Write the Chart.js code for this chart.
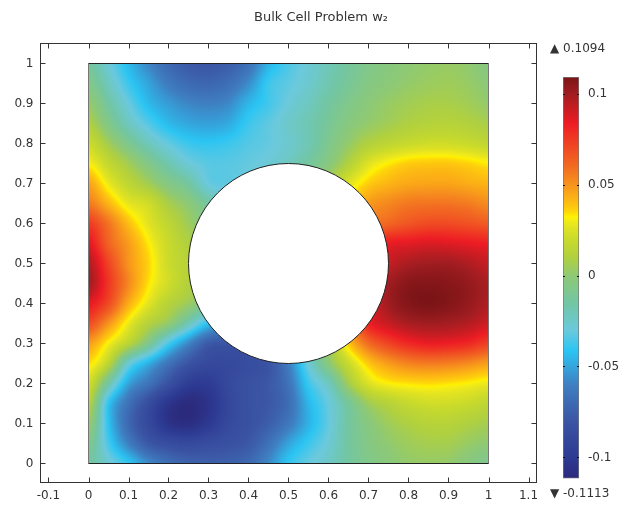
<!DOCTYPE html>
<html>
<head>
<meta charset="utf-8">
<title>Bulk Cell Problem w2</title>
<script src="https://cdn.jsdelivr.net/npm/chart.js@4/dist/chart.umd.min.js"></script>
<style>
    html, body { margin: 0; padding: 0; background: #fff; }
    #wrap { position: relative; width: 620px; height: 507px; overflow: hidden; }
    #field { position: absolute; left: 0; top: 0; }
    #bar { position: absolute; left: 545px; top: 0; }
</style>
</head>
<body>
<div id="wrap">
    <canvas id="field" width="620" height="507"></canvas>
    <canvas id="bar" width="75" height="507"></canvas>
</div>
<script>
// solution, in thousandths. rows go from y = 1 down to y = 0
// (values inside the hole are hidden, they only keep the shading continuous)
var gridX = [0, 0.05, 0.1, 0.15, 0.2, 0.25, 0.3, 0.35, 0.4, 0.45, 0.5, 0.55, 0.6, 0.65, 0.7, 0.75, 0.8, 0.85, 0.9, 0.95, 1];
var gridY = [1, 0.95, 0.9, 0.85, 0.8, 0.75, 0.7, 0.65, 0.6, 0.55, 0.5, 0.45, 0.4, 0.35, 0.3, 0.25, 0.2, 0.15, 0.1, 0.05, 0];
var w2Rows = [
    [-12, -28, -44, -58, -70, -77, -79, -75, -66, -46, -35, -28, -20, -13, -7, -3, 0, 2, 3, 1, -4],
    [-6, -22, -38, -50, -62, -69, -71, -67, -56, -38, -32, -26, -18, -11, -5, -1, 2, 4, 5, 3, -1],
    [2, -14, -30, -44, -52, -58, -60, -57, -45, -37, -29, -22, -14, -7, -1, 3, 6, 8, 8, 6, 2],
    [10, -6, -22, -34, -44, -49, -51, -48, -38, -32, -25, -19, -11, -3, 2, 6, 10, 12, 13, 11, 8],
    [21, 6, -8, -21, -31, -38, -40, -38, -34, -31, -26, -19, -8, 2, 11, 16, 20, 22, 22, 20, 17],
    [32, 18, 6, -6, -18, -28, -33, -33, -31, -28, -22, -13, -3, 11, 26, 33, 37, 38, 38, 36, 33],
    [46, 29, 16, 6, -5, -14, -30, -32, -29, -23, -15, -5, 8, 26, 37, 42, 45, 46, 46, 44, 42],
    [57, 42, 28, 22, 8, -1, -14, -24, -25, -20, -10, 2, 15, 33, 48, 53, 57, 58, 58, 56, 52],
    [75, 58, 40, 27, 16, 5, -5, -14, -15, -10, 0, 12, 27, 44, 56, 62, 67, 70, 70, 68, 65],
    [87, 63, 48, 33, 20, 10, 2, -6, -5, 0, 7, 18, 32, 52, 70, 84, 86, 88, 87, 85, 83],
    [97, 72, 50, 36, 21, 13, 6, 0, 0, 5, 15, 30, 46, 65, 80, 92, 98, 100, 100, 97, 92],
    [100, 76, 53, 34, 22, 11, 2, -3, 0, 5, 20, 35, 55, 75, 90, 100, 106, 107, 106, 103, 98],
    [86, 70, 44, 27, 13, 4, -8, -12, -8, 0, 10, 25, 45, 65, 85, 100, 107, 109, 107, 103, 97],
    [70, 50, 29, 12, 1, -20, -42, -50, -45, -35, -18, 12, 35, 55, 82, 92, 98, 100, 99, 96, 90],
    [48, 31, 14, -8, -36, -58, -77, -80, -80, -70, -45, -18, 8, 38, 60, 72, 80, 84, 83, 80, 73],
    [35, 15, -27, -47, -65, -80, -88, -88, -85, -80, -60, -28, -2, 20, 38, 48, 54, 56, 55, 52, 47],
    [23, -15, -50, -65, -82, -97, -98, -88, -82, -78, -65, -38, -22, 6, 25, 32, 34, 35, 34, 32, 29],
    [13, -40, -66, -85, -103, -110, -104, -90, -82, -78, -68, -45, -30, -12, 5, 13, 19, 22, 22, 20, 16],
    [3, -41, -70, -88, -104, -108, -100, -88, -82, -75, -63, -46, -31, -14, -3, 5, 10, 13, 13, 10, 7],
    [-7, -36, -60, -78, -85, -88, -85, -82, -78, -66, -50, -38, -28, -14, -5, 1, 5, 7, 7, 3, 0],
    [-14, -27, -40, -57, -68, -73, -75, -74, -70, -57, -40, -31, -24, -14, -7, -2, 2, 3, 2, -3, -8]
];
var xTicks = [-0.1, 0, 0.1, 0.2, 0.3, 0.4, 0.5, 0.6, 0.7, 0.8, 0.9, 1, 1.1];
var yTicks = [0, 0.1, 0.2, 0.3, 0.4, 0.5, 0.6, 0.7, 0.8, 0.9, 1];
var barTicks = [-0.1, -0.05, 0, 0.05, 0.1];
var barMax = 0.1094;
var barMin = -0.1113;
var colorValues = [-0.1113, -0.1, -0.08, -0.06, -0.041, -0.03, -0.015, 0, 0.01, 0.02, 0.027, 0.0315, 0.0325, 0.036, 0.041, 0.05, 0.06, 0.084, 0.1, 0.1094];
var colorStops = ["#2b2a7c", "#2d3a92", "#3b54a4", "#3f7fc1", "#2bc5f3", "#6bc9dd", "#72c6a4", "#8ec975", "#b0d040", "#c8da2c", "#e2e322", "#f8ee12", "#fff200", "#fed20c", "#fdb913", "#f7941d", "#f26c22", "#ed1c24", "#a11d21", "#7b1416"];
var holeX = 0.5, holeY = 0.5, holeR = 0.25;

var ink = "#333";
var fontName = "'DejaVu Sans'";

var stopRgb = colorStops.map(function(c) {
    return [parseInt(c.substr(1, 2), 16), parseInt(c.substr(3, 2), 16), parseInt(c.substr(5, 2), 16)];
});

function colorFor(v) {
    var i = 0;
    if (v <= colorValues[0]) return stopRgb[0];
    if (v >= colorValues[colorValues.length - 1]) return stopRgb[stopRgb.length - 1];
    while (v > colorValues[i + 1]) i++;
    var t = (v - colorValues[i]) / (colorValues[i + 1] - colorValues[i]);
    return [0, 1, 2].map(function(k) {
        return stopRgb[i][k] + t * (stopRgb[i + 1][k] - stopRgb[i][k]);
    });
}

function cubic(a, b, c, d, t) {
    return b + 0.5 * t * (c - a + t * (2 * a - 5 * b + 4 * c - d + t * (3 * (b - c) + d - a)));
}

function gridAt(r, c) {
    r = Math.max(0, Math.min(w2Rows.length - 1, r));
    c = Math.max(0, Math.min(gridX.length - 1, c));
    return w2Rows[r][c];
}

// smooth shading between the grid nodes, same as the pcolor gouraud thing
function shade(fx, fy) {
    var c = Math.min(Math.floor(fx), gridX.length - 2), r = Math.min(Math.floor(fy), gridY.length - 2);
    var tx = fx - c, ty = fy - r, col = [];
    for (var j = -1; j < 3; j++) {
        col.push(cubic(gridAt(r + j, c - 1), gridAt(r + j, c), gridAt(r + j, c + 1), gridAt(r + j, c + 2), tx));
    }
    return cubic(col[0], col[1], col[2], col[3], ty) / 1000;
}

var heatPlugin = {
    id: "heat",
    beforeDatasetsDraw: function(chart) {
        var x = chart.scales.x, y = chart.scales.y, ctx = chart.ctx;
        var x0 = x.getPixelForValue(gridX[0]), x1 = x.getPixelForValue(gridX[gridX.length - 1]);
        var y0 = y.getPixelForValue(gridY[0]), y1 = y.getPixelForValue(gridY[gridY.length - 1]);
        var w = Math.round(x1 - x0), h = Math.round(y1 - y0);
        var off = document.createElement("canvas");
        off.width = w;
        off.height = h;
        var octx = off.getContext("2d");
        var img = octx.createImageData(w, h);
        for (var py = 0; py < h; py++) {
            for (var px = 0; px < w; px++) {
                var fx = (px + 0.5) / w * (gridX.length - 1);
                var fy = (py + 0.5) / h * (gridY.length - 1);
                var rgb = colorFor(shade(fx, fy));
                var n = (py * w + px) * 4;
                img.data[n] = rgb[0];
                img.data[n + 1] = rgb[1];
                img.data[n + 2] = rgb[2];
                img.data[n + 3] = 255;
            }
        }
        octx.putImageData(img, 0, 0);
        ctx.drawImage(off, x0, y0, x1 - x0, y1 - y0);

        // domain edges
        ctx.lineWidth = 1;
        ctx.strokeStyle = "#777";
        ctx.beginPath();
        ctx.moveTo(x0, y0); ctx.lineTo(x0, y1);
        ctx.moveTo(x1, y0); ctx.lineTo(x1, y1);
        ctx.stroke();
        ctx.strokeStyle = "#222";
        ctx.beginPath();
        ctx.moveTo(x0, y0); ctx.lineTo(x1, y0);
        ctx.moveTo(x0, y1); ctx.lineTo(x1, y1);
        ctx.stroke();

        // the hole
        var r = x.getPixelForValue(holeX + holeR) - x.getPixelForValue(holeX);
        ctx.beginPath();
        ctx.arc(x.getPixelForValue(holeX), y.getPixelForValue(holeY), r, 0, Math.PI * 2);
        ctx.fillStyle = "#fff";
        ctx.fill();
        ctx.strokeStyle = "#222";
        ctx.stroke();
    },
    afterDraw: function(chart) {
        var a = chart.chartArea, ctx = chart.ctx, len = 5;
        ctx.save();
        ctx.strokeStyle = ink;
        ctx.lineWidth = 1;
        ctx.strokeRect(a.left, a.top, a.right - a.left, a.bottom - a.top);
        ctx.beginPath();
        xTicks.forEach(function(t) {
            var p = Math.round(chart.scales.x.getPixelForValue(t)) + 0.5;
            ctx.moveTo(p, a.top); ctx.lineTo(p, a.top + len);
            ctx.moveTo(p, a.bottom); ctx.lineTo(p, a.bottom - len);
        });
        yTicks.forEach(function(t) {
            var p = Math.round(chart.scales.y.getPixelForValue(t) - 0.5) + 0.5;
            ctx.moveTo(a.left, p); ctx.lineTo(a.left + len, p);
            ctx.moveTo(a.right, p); ctx.lineTo(a.right - len, p);
        });
        ctx.stroke();
        ctx.restore();
    },
    afterLayout: function(chart) {
        // title sits a bit right of the window middle
        chart.titleBlock.left = 22;
        chart.titleBlock.right = 620;
    }
};

var cells = [];
gridY.forEach(function(gy, r) {
    gridX.forEach(function(gx, c) {
        cells.push({x: gx, y: gy, v: w2Rows[r][c] / 1000});
    });
});

function plainLabel(v) {
    return String(v);
}

new Chart(document.getElementById("field"), {
    type: "scatter",
    data: {datasets: [{label: "w2", data: cells, pointRadius: 0, pointHoverRadius: 0}]},
    plugins: [heatPlugin],
    options: {
        responsive: false,
        animation: false,
        events: [],
        layout: {padding: {left: 0, right: 83.5, top: 0, bottom: 0}},
        plugins: {
            legend: {display: false},
            tooltip: {enabled: false},
            title: {
                display: true,
                text: "Bulk Cell Problem w\u2082",
                color: ink,
                font: {family: fontName, size: 13, weight: "normal"},
                padding: {top: 10, bottom: 17.9}
            }
        },
        scales: {
            x: {
                type: "linear",
                min: -0.12,
                max: 1.12,
                afterBuildTicks: function(s) { s.ticks = xTicks.map(function(v) { return {value: v}; }); },
                afterFit: function(s) { s.height = 24.5; },
                grid: {display: false, drawTicks: false},
                border: {display: false},
                ticks: {color: ink, maxRotation: 0, autoSkip: false, padding: 6, font: {family: fontName, size: 12}, callback: plainLabel}
            },
            y: {
                type: "linear",
                min: -0.0475,
                max: 1.05,
                afterBuildTicks: function(s) { s.ticks = yTicks.map(function(v) { return {value: v}; }); },
                afterFit: function(s) { s.width = 40.5; },
                grid: {display: false, drawTicks: false},
                border: {display: false},
                ticks: {color: ink, autoSkip: false, padding: 7, font: {family: fontName, size: 12}, callback: plainLabel}
            }
        }
    }
});

var barPlugin = {
    id: "barMarks",
    afterDraw: function(chart) {
        var a = chart.chartArea, ctx = chart.ctx;
        ctx.save();
        ctx.strokeStyle = "#111";
        ctx.beginPath();
        barTicks.forEach(function(t) {
            var p = Math.round(chart.scales.y.getPixelForValue(t) - 0.5) + 0.5;
            ctx.moveTo(a.left, p); ctx.lineTo(a.left + 2, p);
            ctx.moveTo(a.right, p); ctx.lineTo(a.right - 2, p);
        });
        ctx.stroke();
        ctx.fillStyle = ink;
        ctx.font = "12px " + fontName;
        ctx.textBaseline = "middle";
        ctx.fillText("\u25B2 " + barMax, 5, 49);
        ctx.fillText("\u25BC " + barMin, 5, 494);
        ctx.restore();
    }
};

new Chart(document.getElementById("bar"), {
    type: "bar",
    data: {
        labels: ["w2"],
        datasets: [{
            data: [[barMin, barMax]],
            barPercentage: 1,
            categoryPercentage: 1,
            borderWidth: 1,
            borderColor: "#777",
            borderSkipped: false,
            backgroundColor: function(c) {
                var area = c.chart.chartArea;
                if (!area) return "#888";
                var y = c.chart.scales.y;
                var g = c.chart.ctx.createLinearGradient(0, y.getPixelForValue(barMin), 0, y.getPixelForValue(barMax));
                colorValues.forEach(function(v, i) {
                    g.addColorStop((v - barMin) / (barMax - barMin), colorStops[i]);
                });
                return g;
            }
        }]
    },
    plugins: [barPlugin],
    options: {
        responsive: false,
        animation: false,
        events: [],
        layout: {padding: {left: 18, right: 0, top: 77, bottom: 28.5}},
        plugins: {legend: {display: false}, tooltip: {enabled: false}},
        scales: {
            x: {display: false},
            y: {
                position: "right",
                min: barMin,
                max: barMax,
                afterBuildTicks: function(s) { s.ticks = barTicks.map(function(v) { return {value: v}; }); },
                afterFit: function(s) { s.width = 41; },
                grid: {display: false, drawTicks: false},
                border: {display: false},
                ticks: {color: ink, autoSkip: false, padding: 9, font: {family: fontName, size: 12}, callback: plainLabel}
            }
        }
    }
});
</script>
</body>
</html>
